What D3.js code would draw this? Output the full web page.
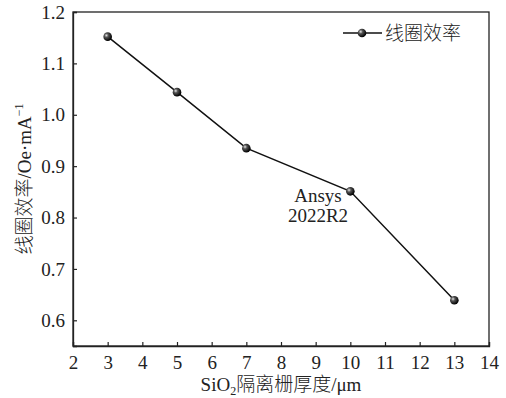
<!DOCTYPE html>
<html><head><meta charset="utf-8">
<script src="https://cdn.jsdelivr.net/npm/d3@7/dist/d3.min.js"></script>
<style>body{margin:0;background:#fff}</style>
</head><body>
<svg id="c" width="506" height="398"></svg>
<script>
const thickness = [3, 5, 7, 10, 13];
const efficiency = [1.152, 1.044, 0.935, 0.851, 0.639];
const xTicks = [2,3,4,5,6,7,8,9,10,11,12,13,14];
const yTicks = [0.6,0.7,0.8,0.9,1.0,1.1,1.2];
const seriesName = "线圈效率";
const xTitle = ["SiO", "2", "隔离栅厚度/μm"];
const yTitle = ["线圈效率/Oe·mA", "−1"];
const note = ["Ansys", "2022R2"];

const svg = d3.select("#c");
const m = {l:73, t:12, r:489, b:346};
const x = d3.scaleLinear().domain([2,14]).range([m.l, m.r]);
const y = d3.scaleLinear().domain([0.55,1.2]).range([m.b, m.t]);
const num = "'Liberation Serif','Times New Roman',serif";
const cjk = "'Liberation Serif','Noto Sans CJK SC',serif";
const FS = 19;

const defs = svg.append("defs");
const g = defs.append("radialGradient").attr("id","ball").attr("cx","35%").attr("cy","35%").attr("r","65%");
g.append("stop").attr("offset","0%").attr("stop-color","#e8e8e8");
g.append("stop").attr("offset","35%").attr("stop-color","#555");
g.append("stop").attr("offset","100%").attr("stop-color","#000");

// frame
svg.append("rect").attr("x",m.l).attr("y",m.t).attr("width",m.r-m.l).attr("height",m.b-m.t)
  .attr("fill","none").attr("stroke","#222").attr("stroke-width",1.3);

const xa = svg.append("g").attr("transform",`translate(0,${m.b})`)
  .call(d3.axisBottom(x).tickValues(xTicks).tickSize(-4).tickPadding(10).tickFormat(d3.format("d")));
const ya = svg.append("g").attr("transform",`translate(${m.l},0)`)
  .call(d3.axisLeft(y).tickValues(yTicks).tickSize(-4).tickPadding(8).tickFormat(d3.format(".1f")));
[xa,ya].forEach(a=>{
  a.select(".domain").attr("stroke","#222").attr("stroke-width",1.3);
  a.selectAll(".tick line").attr("stroke","#222").attr("stroke-width",1.2);
  a.selectAll(".tick text").attr("font-family",num).attr("font-size",FS).attr("fill","#222");
});

const line = d3.line().x((d,i)=>x(thickness[i])).y(d=>y(d));
svg.append("path").datum(efficiency).attr("d",line).attr("fill","none").attr("stroke","#111").attr("stroke-width",1.5);
svg.selectAll("circle.pt").data(efficiency).join("circle").attr("class","pt")
  .attr("cx",(d,i)=>x(thickness[i])).attr("cy",d=>y(d)).attr("r",4.3).attr("fill","url(#ball)");

// legend
svg.append("line").attr("x1",343).attr("x2",382).attr("y1",33).attr("y2",33).attr("stroke","#111").attr("stroke-width",1.5);
svg.append("circle").attr("cx",362).attr("cy",33).attr("r",4.3).attr("fill","url(#ball)");
svg.append("text").attr("x",385).attr("y",40).attr("font-family",cjk).attr("font-weight",300).attr("font-size",FS).attr("fill","#222").text(seriesName);

// annotation
note.forEach((t,i)=>svg.append("text").attr("x",318).attr("y",202+i*20).attr("text-anchor","middle")
  .attr("font-family",num).attr("font-size",FS).attr("fill","#222").text(t));

// x title
const xt = svg.append("text").attr("x",(m.l+m.r)/2).attr("y",391).attr("text-anchor","middle")
  .attr("font-family",cjk).attr("font-weight",300).attr("font-size",FS).attr("fill","#222");
xt.append("tspan").text(xTitle[0]);
xt.append("tspan").attr("font-size",12).attr("dy",4).text(xTitle[1]);
xt.append("tspan").attr("dy",-4).text(xTitle[2]);

// y title
const yt = svg.append("text").attr("transform",`translate(31,${(m.t+m.b)/2}) rotate(-90)`).attr("text-anchor","middle")
  .attr("font-family",cjk).attr("font-weight",300).attr("font-size",FS).attr("fill","#222");
yt.append("tspan").text(yTitle[0]);
yt.append("tspan").attr("font-size",12).attr("dy",-8).text(yTitle[1]);
</script>
</body></html>
